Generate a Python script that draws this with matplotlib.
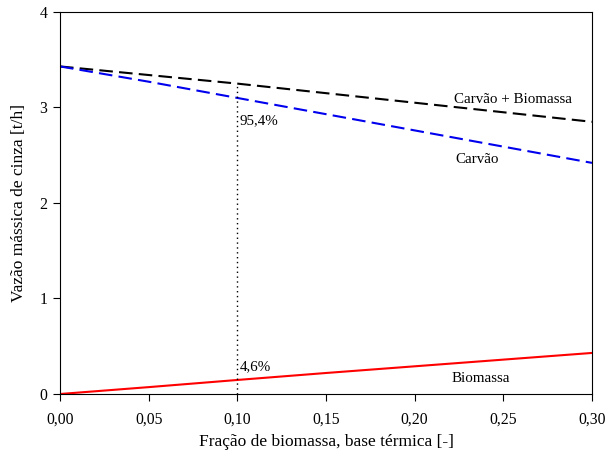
import matplotlib
matplotlib.use("Agg")
import matplotlib.pyplot as plt

plt.rcParams['font.family'] = ['Liberation Serif', 'DejaVu Serif']

fracao = [0.00, 0.05, 0.10, 0.15, 0.20, 0.25, 0.30]
carvao_biomassa = [3.43, 3.34, 3.25, 3.15, 3.05, 2.95, 2.85]
carvao = [3.43, 3.27, 3.10, 2.93, 2.76, 2.59, 2.42]
biomassa = [0.00, 0.072, 0.147, 0.22, 0.29, 0.36, 0.43]

xticks = [0.00, 0.05, 0.10, 0.15, 0.20, 0.25, 0.30]
xticklabels = ["0,00", "0,05", "0,10", "0,15", "0,20", "0,25", "0,30"]
yticks = [0, 1, 2, 3, 4]

fig = plt.figure(figsize=(6.07, 4.59), dpi=100)
ax = fig.add_axes([0.0988, 0.1416, 0.8765, 0.8323])

ax.plot(fracao, carvao_biomassa, color='black', lw=1.5, dashes=(6.5, 3))
ax.plot(fracao, carvao, color='#0000ee', lw=1.5, dashes=(6.5, 3))
ax.plot(fracao, biomassa, color='red', lw=1.5)

# linha pontilhada em x = 0,10
ax.plot([0.10, 0.10], [0, carvao_biomassa[2]], color='black', lw=1, ls=(0, (1, 2.5)))

ax.text(0.1015, 2.86, "95,4%", fontsize=10.8, va='center', ha='left')
ax.text(0.1015, 0.29, "4,6%", fontsize=10.8, va='center', ha='left')
ax.text(0.2555, 3.08, "Carvão + Biomassa", fontsize=10.8, va='center', ha='center')
ax.text(0.235, 2.46, "Carvão", fontsize=10.8, va='center', ha='center')
ax.text(0.237, 0.16, "Biomassa", fontsize=10.8, va='center', ha='center')

ax.set_xlim(0, 0.30)
ax.set_ylim(0, 4)
ax.set_xticks(xticks)
ax.set_xticklabels(xticklabels)
ax.set_yticks(yticks)
ax.tick_params(direction='out', length=5, labelsize=11.3, pad=8)
ax.tick_params(axis='y', pad=4)

ax.set_xlabel("Fração de biomassa, base térmica [-]", fontsize=12.5, labelpad=4)
ax.set_ylabel("Vazão mássica de cinza [t/h]", fontsize=12.5, labelpad=9)

fig.savefig("out.png", dpi=100)
